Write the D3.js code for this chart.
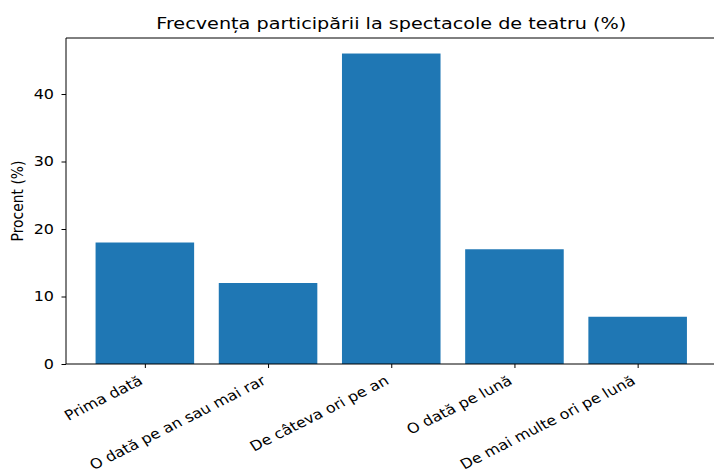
<!DOCTYPE html>
<html>
<head>
<meta charset="utf-8">
<script src="https://cdn.jsdelivr.net/npm/d3@7"></script>
<style>
  body { margin: 0; background: #fff; }
  svg { display: block; font-family: "DejaVu Sans", sans-serif; }
</style>
</head>
<body>
<script>
const categories = ["Prima dată", "O dată pe an sau mai rar", "De câteva ori pe an", "O dată pe lună", "De mai multe ori pe lună"];
const values = [18, 12, 46, 17, 7];
const yTicks = [0, 10, 20, 30, 40];
const title = "Frecvența participării la spectacole de teatru (%)";
const yLabel = "Procent (%)";

const SX = 1.15; // horizontal stretch of the reference rendering
const W = 714, H = 471;
const margin = { left: 66, top: 38, right: 714 - 716.5, bottom: 471 - 364 };
const plotW = W - margin.left - margin.right;
const plotH = H - margin.top - margin.bottom;

const svg = d3.select("body").append("svg").attr("width", W).attr("height", H);
const g = svg.append("g").attr("transform", `translate(${margin.left},${margin.top})`);

const n = categories.length;
const lo = -0.4, hi = n - 1 + 0.4, pad = (hi - lo) * 0.05;
const xl = d3.scaleLinear().domain([lo - pad, hi + pad]).range([0, plotW]);
const ymax = d3.max(values) * 1.05;
const y = d3.scaleLinear().domain([0, ymax]).range([plotH, 0]);

g.selectAll("rect.bar").data(values).join("rect")
  .attr("class", "bar")
  .attr("x", (d, i) => xl(i - 0.4))
  .attr("width", (d, i) => xl(i + 0.4) - xl(i - 0.4))
  .attr("y", d => y(d))
  .attr("height", d => y(0) - y(d))
  .attr("fill", "#1f77b4");

// spines
const spine = (x1, y1, x2, y2) => g.append("line").attr("x1", x1).attr("y1", y1).attr("x2", x2).attr("y2", y2)
  .attr("stroke", "#000").attr("stroke-width", 1);
spine(0, 0, 0, plotH);
spine(0, 0, plotW, 0);
spine(0, plotH, plotW, plotH);
spine(plotW, 0, plotW, plotH);

// y axis
const yAxis = d3.axisLeft(y).tickValues(yTicks).tickSize(4.5).tickPadding(4).tickFormat(d3.format("d"));
const ya = g.append("g").call(yAxis);
ya.select(".domain").remove();
ya.selectAll("line").attr("stroke", "#000");
ya.selectAll("text")
  .attr("font-size", "13.9px").attr("fill", "#000").attr("font-family", "DejaVu Sans")
  .attr("x", 0)
  .attr("transform", `translate(-12,0) scale(${SX},1)`);

// x axis
const xAxis = d3.axisBottom(xl).tickValues(d3.range(n)).tickSize(4).tickFormat(i => categories[i]);
const xa = g.append("g").attr("transform", `translate(0,${plotH})`).call(xAxis);
xa.select(".domain").remove();
xa.selectAll("line").attr("stroke", "#000");
xa.selectAll("text")
  .attr("font-size", "13.9px").attr("fill", "#000").attr("font-family", "DejaVu Sans")
  .attr("text-anchor", "end")
  .attr("x", -8).attr("y", 0).attr("dy", "0.78em")
  .attr("transform", `translate(0,6) scale(${SX},1) rotate(-30)`);

// title
svg.append("text")
  .attr("transform", `translate(${margin.left + plotW / 2},29) scale(${SX},1)`)
  .attr("text-anchor", "middle").attr("font-size", "16.7px").attr("fill", "#000").text(title);

// y label
svg.append("text").attr("transform", `translate(23,${margin.top + plotH / 2}) scale(${SX},1) rotate(-90)`)
  .attr("text-anchor", "middle").attr("font-size", "13.9px").attr("fill", "#000").text(yLabel);
</script>
</body>
</html>
